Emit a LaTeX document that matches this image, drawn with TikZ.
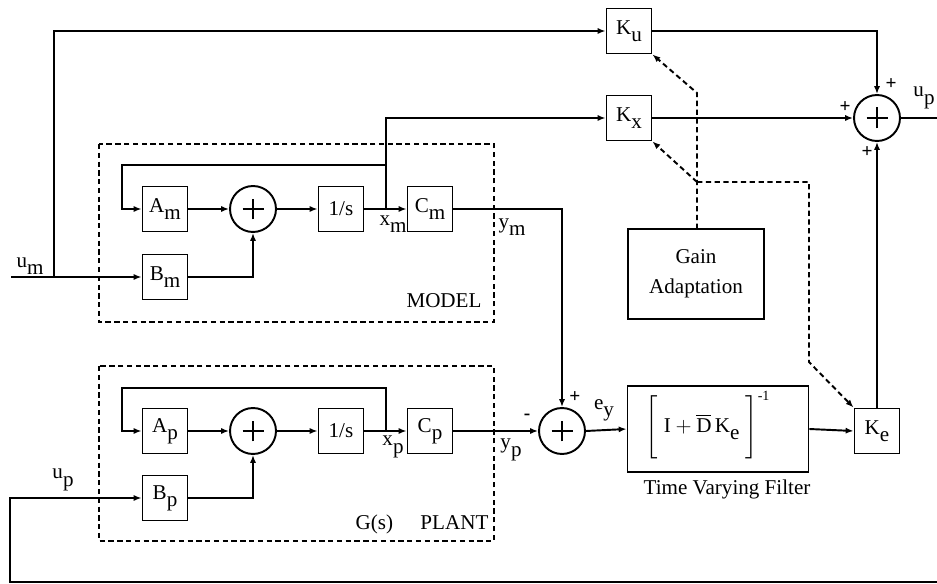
\documentclass[tikz,border=0pt]{standalone}
\usepackage{fontspec}
\setmainfont{Liberation Serif}
\usepackage{amsmath}
\usetikzlibrary{arrows.meta}
\newcommand\sbx[1]{\raisebox{-0.75ex}{#1}}
\newcommand\plusin[1]{\draw[line width=1.4pt] ([xshift=-0.21cm]#1.center) -- ([xshift=0.21cm]#1.center) ([yshift=-0.21cm]#1.center) -- ([yshift=0.21cm]#1.center);}
\begin{document}
\begin{tikzpicture}[x=0.02cm,y=-0.02cm, font=\fontsize{12}{14}\selectfont,
  blk/.style={draw, line width=1.1pt, minimum width=0.9cm, minimum height=0.9cm, inner sep=0pt},
  sumc/.style={draw, circle, line width=1.1pt, minimum size=0.92cm, inner sep=0pt},
  sig/.style={line width=1.1pt},
  arr/.style={sig, -{Latex[length=4.5pt,width=3.5pt]}},
  dsh/.style={line width=1.1pt, dash pattern=on 3pt off 2pt},
  darr/.style={dsh, -{Latex[length=4.5pt,width=3.5pt]}},
  grp/.style={line width=1.1pt, dash pattern=on 3pt off 2pt},
  lbl/.style={inner sep=0pt},
  sgn/.style={inner sep=0pt, font=\fontsize{11}{12}\selectfont\bfseries}]
\useasboundingbox (0,0) rectangle (937,584);
% group boxes
\draw[grp] (99,144) rectangle (494,322);
\draw[grp] (99,366) rectangle (494,541);
\node[lbl] (modeltxt) at (444,301) {MODEL};
\node[lbl] (planttxt) at (422,524) {G(s)\hspace{1.3em}PLANT};
% model blocks
\node[blk] (Am) at (165,209) {A\sbx{m}};
\node[sumc] (summ) at (253,209) {};
\node[blk] (intm) at (341,209) {1/s};
\node[blk] (Cm) at (430,209) {C\sbx{m}};
\node[blk] (Bm) at (165,277) {B\sbx{m}};
% plant blocks
\node[blk] (Ap) at (165,431) {A\sbx{p}};
\node[sumc] (sump) at (253,431) {};
\node[blk] (intp) at (341,431) {1/s};
\node[blk] (Cp) at (430,431) {C\sbx{p}};
\node[blk] (Bp) at (165,498) {B\sbx{p}};
% controller
\node[blk] (Ku) at (629,31) {K\sbx{u}};
\node[blk] (Kx) at (629,118) {K\sbx{x}};
\node[sumc] (bigsum) at (877,118) {};
\node[sumc] (sum2) at (562,431) {};
\node[blk, minimum width=3.62cm, minimum height=1.72cm] (tvf) at (718,429) {};
\node[lbl] (formula) at (708,425) {$\Bigg[\;\text{I}+\overline{\text{D}}\,\text{K\sbx{e}}\;\Bigg]^{\text{-1}}$};
\node[lbl] (tvftxt) at (727,489) {Time Varying Filter};
\node[blk] (Ke) at (877,431) {K\sbx{e}};
\node[blk, minimum width=2.72cm, minimum height=1.8cm, align=center, font=\fontsize{12}{17}\selectfont] (ga) at (696,274) {Gain\\Adaptation};
\plusin{summ}
\plusin{sump}
\plusin{bigsum}
\plusin{sum2}
% coordinates
\coordinate (umin) at (11,277);
\coordinate (umbr) at (54,277);
\coordinate (xm) at (386,209);
\coordinate (xp) at (386,431);
\coordinate (upout) at (937,118);
\coordinate (fbR) at (937,582);
\coordinate (gaTop) at (697,229);
\coordinate (dj1) at (697,182);
% model signals
\draw[arr] (umin) -- (Bm.west);
\draw[arr] (umbr) |- (Ku.west);
\draw[arr] (Am) -- (summ);
\draw[arr] (summ) -- (intm);
\draw[arr] (intm) -- (Cm);
\draw[arr] (Bm.east) -| (summ.south);
\draw[arr] (xm) -- (386,165) -- (122,165) |- (Am.west);
\draw[arr] (386,165) |- (Kx.west);
\draw[arr] (Cm.east) -| (sum2.north);
% plant signals
\draw[arr] (Ap) -- (sump);
\draw[arr] (sump) -- (intp);
\draw[arr] (intp) -- (Cp);
\draw[arr] (Bp.east) -| (sump.south);
\draw[arr] (xp) -- (386,388) -- (122,388) |- (Ap.west);
\draw[arr] (fbR) -- (10,582) |- (Bp.west);
\draw[arr] (Cp.east) -- (sum2.west);
\draw[arr] (sum2.east) -- (tvf.west);
\draw[arr] (tvf.east) -- (Ke.west);
% controller signals
\draw[arr] (Ku.east) -| (bigsum.north);
\draw[arr] (Kx.east) -- (bigsum.west);
\draw[arr] (Ke.north) -- (bigsum.south);
\draw[sig] (bigsum.east) -- (upout);
% dashed adaptation
\draw[darr] (gaTop) -- (697,93) -- (Ku.south east);
\draw[darr] (dj1) -- (Kx.south east);
\draw[darr] (dj1) -- (809,182) -- (809,362) -- (Ke.north west);
% labels
\node[lbl] at (30,266) {u\sbx{m}};
\node[lbl] at (393,224) {x\sbx{m}};
\node[lbl] at (512,227) {y\sbx{m}};
\node[lbl] at (63,480) {u\sbx{p}};
\node[lbl] at (393,447) {x\sbx{p}};
\node[lbl] at (511,450) {y\sbx{p}};
\node[lbl] at (604,410) {e\sbx{y}};
\node[lbl] at (924,98) {u\sbx{p}};
\node[sgn] at (575,397) {+};
\node[sgn] at (527,417) {-};
\node[sgn] at (891,84) {+};
\node[sgn] at (845,107) {+};
\node[sgn] at (867,152) {+};
\end{tikzpicture}
\end{document}
